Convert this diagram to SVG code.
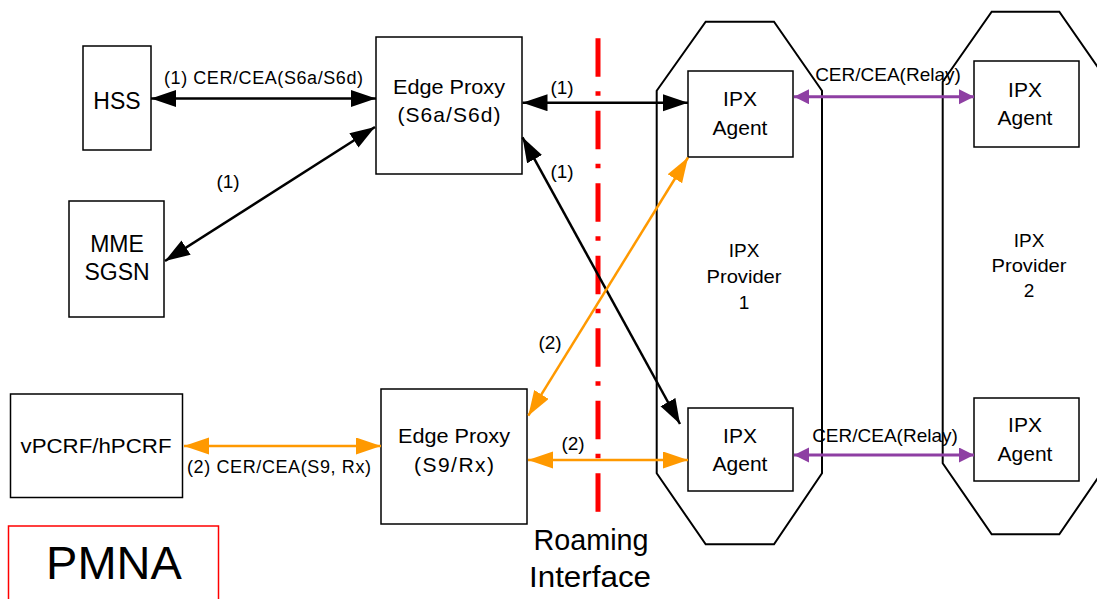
<svg xmlns="http://www.w3.org/2000/svg" width="1097" height="599" viewBox="0 0 1097 599">
<style>
  text { font-family: "Liberation Sans", Arial, sans-serif; fill: #000; text-anchor: middle; }
  .box { fill: #fff; stroke: #000; stroke-width: 1.5; }
  .prov { fill: none; stroke: #000; stroke-width: 2; }
  .blk { stroke: #000; stroke-width: 2.5; fill: none; marker-start: url(#ab); marker-end: url(#ab); }
  .org { stroke: #FF9900; stroke-width: 2.5; fill: none; marker-start: url(#ao); marker-end: url(#ao); }
  .pur { stroke: #8E3FA3; stroke-width: 3; fill: none; marker-start: url(#ap); marker-end: url(#ap); }
  .node { font-size: 23px; }
  .ep { font-size: 21px; }
  .agent { font-size: 21px; }
  .provt { font-size: 19px; }
  .lbl { font-size: 18px; }
  .num { font-size: 19px; }
  .relay { font-size: 19px; }
</style>
<defs>
  <marker id="ab" markerUnits="userSpaceOnUse" markerWidth="26" markerHeight="18" refX="25" refY="8.5" orient="auto-start-reverse">
    <path d="M0,0 L25,8.5 L0,17 Z" fill="#000"/>
  </marker>
  <marker id="ao" markerUnits="userSpaceOnUse" markerWidth="26" markerHeight="18" refX="25" refY="8.5" orient="auto-start-reverse">
    <path d="M0,0 L25,8.5 L0,17 Z" fill="#FF9900"/>
  </marker>
  <marker id="ap" markerUnits="userSpaceOnUse" markerWidth="16" markerHeight="16" refX="15" refY="7.5" orient="auto-start-reverse">
    <path d="M0,0 L15,7.5 L0,15 Z" fill="#8E3FA3"/>
  </marker>
</defs>

<g id="ipx-provider-1">
  <path class="prov" d="M705.7,21.7 L774,21.7 L822,90.7 L822,473.3 L774,544.3 L705.7,544.3 L656.7,473.3 L656.7,90.7 Z"/>
  <text class="provt" x="744" y="257">IPX</text>
  <text class="provt" x="744" y="283" textLength="75" lengthAdjust="spacingAndGlyphs">Provider</text>
  <text class="provt" x="744" y="309">1</text>
</g>
<g id="ipx-provider-2">
  <path class="prov" d="M991.7,11.7 L1059.3,11.7 L1108,81.7 L1108,463.3 L1059.3,534.3 L991.7,534.3 L942.7,463.3 L942.7,81.7 Z"/>
  <text class="provt" x="1029" y="247">IPX</text>
  <text class="provt" x="1029" y="272" textLength="75" lengthAdjust="spacingAndGlyphs">Provider</text>
  <text class="provt" x="1029" y="297">2</text>
</g>

<g id="roaming-interface">
  <line x1="598" y1="38.3" x2="598" y2="512" stroke="#FF0000" stroke-width="5" stroke-dasharray="38.5 14.5 4.5 15"/>
  <text x="591" y="550" font-size="30" textLength="115" lengthAdjust="spacingAndGlyphs">Roaming</text>
  <text x="590" y="587" font-size="30" textLength="122" lengthAdjust="spacingAndGlyphs">Interface</text>
</g>

<g id="hss">
  <rect class="box" x="83" y="46" width="68" height="104"/>
  <text class="node" x="117" y="109">HSS</text>
</g>
<g id="mme-sgsn">
  <rect class="box" x="69" y="201" width="95" height="116"/>
  <text class="node" x="117" y="252">MME</text>
  <text class="node" x="117" y="280">SGSN</text>
</g>
<g id="edge-proxy-s6a">
  <rect class="box" x="376" y="37" width="146" height="137"/>
  <text class="ep" x="449" y="94" textLength="112" lengthAdjust="spacingAndGlyphs">Edge Proxy</text>
  <text class="ep" x="449" y="122" textLength="103" lengthAdjust="spacing">(S6a/S6d)</text>
</g>
<g id="vpcrf">
  <rect class="box" x="10.5" y="394" width="172" height="103.5"/>
  <text class="ep" x="96" y="453" textLength="151" lengthAdjust="spacingAndGlyphs">vPCRF/hPCRF</text>
</g>
<g id="edge-proxy-s9">
  <rect class="box" x="381" y="389" width="146" height="135"/>
  <text class="ep" x="454" y="443" textLength="112" lengthAdjust="spacingAndGlyphs">Edge Proxy</text>
  <text class="ep" x="454" y="472" textLength="80" lengthAdjust="spacing">(S9/Rx)</text>
</g>
<g id="ipx-agent-1a">
  <rect class="box" x="688" y="71" width="105" height="86"/>
  <text class="agent" x="740" y="106">IPX</text>
  <text class="agent" x="740" y="135">Agent</text>
</g>
<g id="ipx-agent-1b">
  <rect class="box" x="688" y="408" width="105" height="83"/>
  <text class="agent" x="740" y="443">IPX</text>
  <text class="agent" x="740" y="471">Agent</text>
</g>
<g id="ipx-agent-2a">
  <rect class="box" x="974" y="61" width="105" height="86"/>
  <text class="agent" x="1025" y="97">IPX</text>
  <text class="agent" x="1025" y="125">Agent</text>
</g>
<g id="ipx-agent-2b">
  <rect class="box" x="974" y="398" width="105" height="83"/>
  <text class="agent" x="1025" y="432">IPX</text>
  <text class="agent" x="1025" y="461">Agent</text>
</g>
<g id="pmna">
  <rect x="8.5" y="526" width="210" height="90" fill="none" stroke="#FF0000" stroke-width="1.5"/>
  <text x="114" y="579" font-size="47">PMNA</text>
</g>

<g id="connectors">
  <line class="blk" x1="151" y1="98.5" x2="376" y2="98.5"/>
  <line class="blk" x1="165" y1="261" x2="375" y2="127"/>
  <line class="blk" x1="522.5" y1="102.7" x2="688" y2="102.7"/>
  <line class="blk" x1="522.5" y1="137.3" x2="680" y2="424"/>
  <line class="org" x1="528.3" y1="415.7" x2="688" y2="157.5"/>
  <line class="org" x1="184" y1="446" x2="381" y2="446"/>
  <line class="org" x1="528" y1="460" x2="688" y2="460"/>
  <line class="pur" x1="794" y1="96.7" x2="974" y2="96.7"/>
  <line class="pur" x1="794" y1="455" x2="974" y2="455"/>

  <text class="lbl" x="263.5" y="84" textLength="199" lengthAdjust="spacing">(1) CER/CEA(S6a/S6d)</text>
  <text class="num" x="228" y="188">(1)</text>
  <text class="num" x="562" y="94">(1)</text>
  <text class="num" x="562" y="178">(1)</text>
  <text class="num" x="550" y="349">(2)</text>
  <text class="num" x="573" y="450">(2)</text>
  <text class="lbl" x="279" y="473" textLength="184" lengthAdjust="spacing">(2) CER/CEA(S9, Rx)</text>
  <text class="relay" x="888" y="81">CER/CEA(Relay)</text>
  <text class="relay" x="885" y="442">CER/CEA(Relay)</text>
</g>
</svg>
